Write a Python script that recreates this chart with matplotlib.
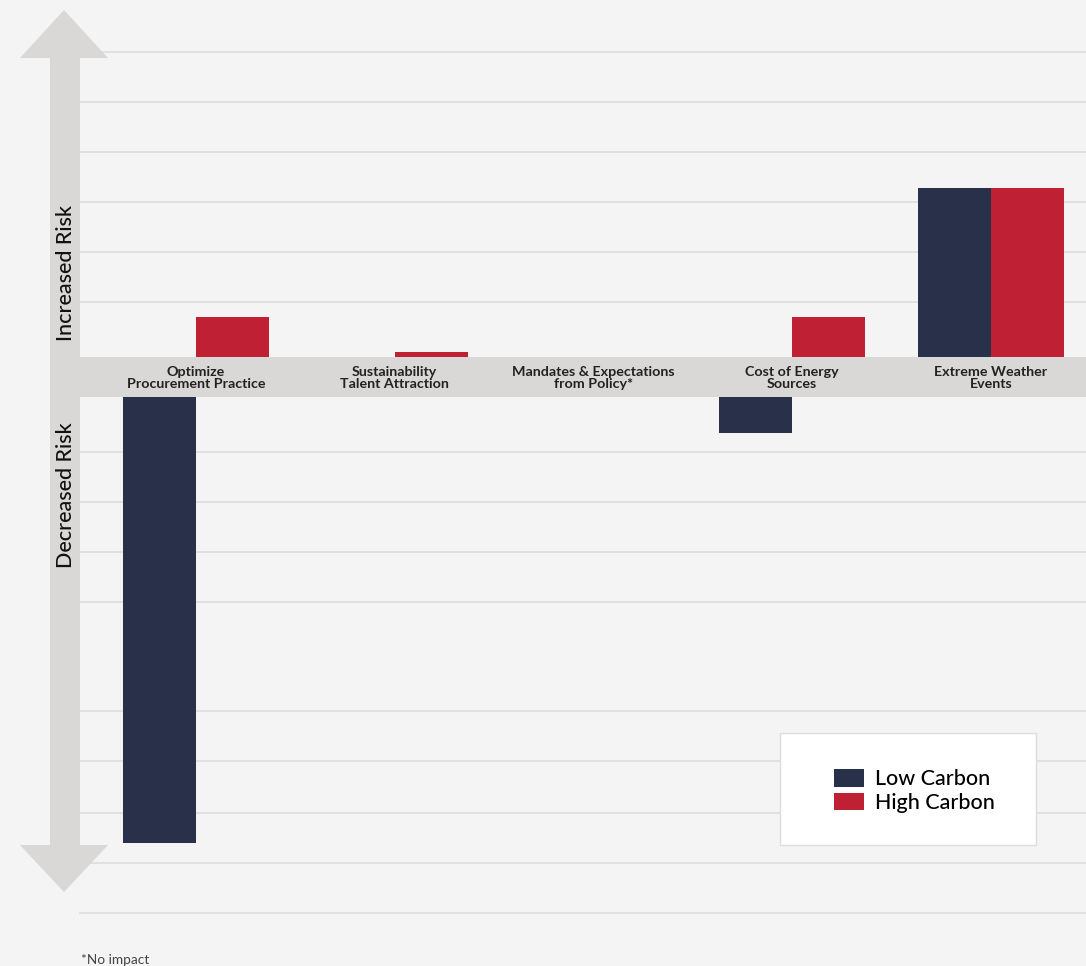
import matplotlib.pyplot as plt
from matplotlib.patches import Polygon, Rectangle, Patch

W, H = 1086, 966

categories = ['Optimize\nProcurement Practice', 'Sustainability\nTalent Attraction',
              'Mandates & Expectations\nfrom Policy*', 'Cost of Energy\nSources',
              'Extreme Weather\nEvents']
low_carbon = [-8.92, 0.0, 0.0, -0.72, 3.38]
high_carbon = [0.8, 0.1, 0.0, 0.8, 3.38]
series_names = ['Low Carbon', 'High Carbon']

# value axis: the grey band sits between 0 and -gap, negatives hang below it
gap = 0.8
grid_up = [1.1, 2.1, 3.1, 4.1, 5.1, 6.1]
grid_down = [-1.9, -2.9, -3.9, -4.9, -7.08, -8.08, -9.12, -10.12, -11.12]

navy = '#283149'
red = '#bf2033'
band = '#d9d8d6'
bg = '#f4f4f4'
font = 'Lato'


def fpx(x, y):
    # pixel (from top-left) -> figure fraction
    return (x / W, 1 - y / H)


fig = plt.figure(figsize=(W / 100, H / 100), dpi=100, facecolor=bg)
ax = fig.add_axes([0, 0, 1, 1])
ax.set_facecolor(bg)

step = 198.75
x0 = 196
ax.set_xlim(-x0 / step, (W - x0) / step)
ax.set_ylim((357 - H) / 50, 357 / 50)
ax.axis('off')

for g in grid_up + grid_down:
    ax.axhline(g, xmin=80 / W, xmax=1, color='#dcdcdc', lw=1.2, zorder=1)

ax.axhspan(-gap, 0, xmin=50 / W, xmax=1, color=band, lw=0, zorder=2)

bw = 73 / step
xs = list(range(len(categories)))
for i in xs:
    for v, off, c in ((low_carbon[i], -bw / 2, navy), (high_carbon[i], bw / 2, red)):
        if v == 0:
            continue
        base = -gap if v < 0 else 0
        ax.bar(i + off, v, width=bw, bottom=base, color=c, lw=0, zorder=3)
    ax.text(i, -gap / 2 - 0.02, categories[i], ha='center', va='center', fontsize=10.3,
            fontweight='bold', color='#222222', family=font, linespacing=0.92,
            zorder=4)

# double-headed arrow on the left
pts = [(64, 10), (108, 58), (80, 58), (80, 845), (108, 845), (64, 892),
       (20, 845), (50, 845), (50, 58), (20, 58)]
fig.patches.append(Polygon([fpx(x, y) for x, y in pts], closed=True,
                           transform=fig.transFigure, facecolor=band,
                           edgecolor='none', zorder=5))
fig.text(*fpx(66, 273), 'Increased Risk', rotation=90, ha='center', va='center',
         fontsize=15.5, color='#111111', family=font, fontweight='medium', zorder=6)
fig.text(*fpx(66, 495), 'Decreased Risk', rotation=90, ha='center', va='center',
         fontsize=15.5, color='#111111', family=font, fontweight='medium', zorder=6)

# legend box
bx0, by0, bx1, by1 = 780, 733, 1036, 845
fig.patches.append(Rectangle(fpx(bx0, by1), (bx1 - bx0) / W, (by1 - by0) / H,
                             transform=fig.transFigure, facecolor='white',
                             edgecolor='#dddddd', lw=1, zorder=5))
handles = [Patch(facecolor=navy, label=series_names[0]),
           Patch(facecolor=red, label=series_names[1])]
leg = fig.legend(handles=handles, loc='center', bbox_to_anchor=fpx(914, 791),
                 frameon=False, prop={'family': font, 'size': 15.5, 'weight': 'medium'},
                 handlelength=1.4, handleheight=0.9, handletextpad=0.5,
                 labelspacing=0.15)
leg.set_zorder(6)

fig.text(*fpx(81, 960), '*No impact', ha='left', va='center', fontsize=9.8,
         color='#444444', family=font)

fig.savefig('out.png', dpi=100, facecolor=bg)
